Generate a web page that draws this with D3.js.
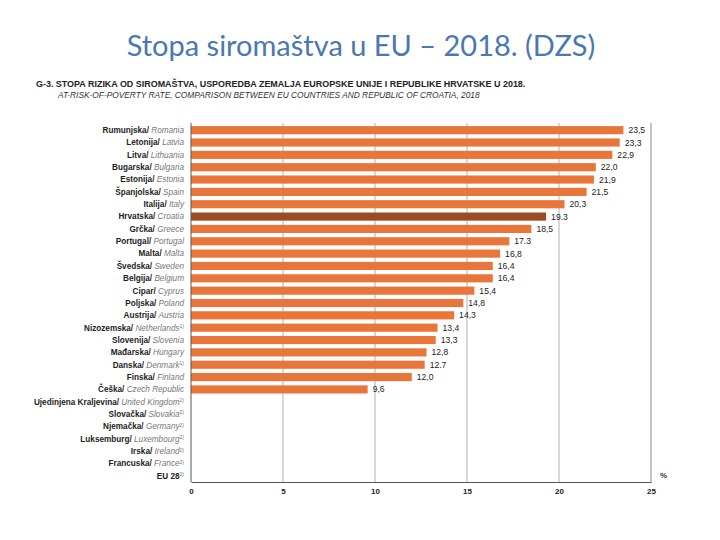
<!DOCTYPE html>
<html>
<head>
<meta charset="utf-8">
<script src="https://cdn.jsdelivr.net/npm/d3@7"></script>
<style>
  body { margin: 0; background: #fff; }
  svg { display: block; }
</style>
</head>
<body>
<div id="chart"></div>
<script>
// Countries, Croatian / English name, footnote mark
const namesHr = ["Rumunjska", "Letonija", "Litva", "Bugarska", "Estonija", "Španjolska", "Italija", "Hrvatska",
  "Grčka", "Portugal", "Malta", "Švedska", "Belgija", "Cipar", "Poljska", "Austrija", "Nizozemska", "Slovenija",
  "Mađarska", "Danska", "Finska", "Češka", "Ujedinjena Kraljevina", "Slovačka", "Njemačka", "Luksemburg",
  "Irska", "Francuska", "EU 28"];
const namesEn = ["Romania", "Latvia", "Lithuania", "Bulgaria", "Estonia", "Spain", "Italy", "Croatia",
  "Greece", "Portugal", "Malta", "Sweden", "Belgium", "Cyprus", "Poland", "Austria", "Netherlands", "Slovenia",
  "Hungary", "Denmark", "Finland", "Czech Republic", "United Kingdom", "Slovakia", "Germany", "Luxembourg",
  "Ireland", "France", ""];
const notes = ["", "", "", "", "", "", "", "", "", "", "", "", "", "", "", "", "1)", "", "", "1)", "", "",
  "2)", "2)", "2)", "2)", "2)", "2)", "2)"];
// at-risk-of-poverty rate, %  (null = no data)
const values = [23.5, 23.3, 22.9, 22.0, 21.9, 21.5, 20.3, 19.3, 18.5, 17.3, 16.8, 16.4, 16.4, 15.4, 14.8, 14.3,
  13.4, 13.3, 12.8, 12.7, 12.0, 9.6, null, null, null, null, null, null, null];
const valueLabels = ["23,5", "23,3", "22,9", "22,0", "21,9", "21,5", "20,3", "19.3", "18,5", "17.3", "16,8",
  "16,4", "16,4", "15,4", "14,8", "14,3", "13,4", "13,3", "12,8", "12.7", "12,0", "9,6"];
const xTicks = [0, 5, 10, 15, 20, 25];
const highlight = "Hrvatska";

const font = "'Liberation Sans', Arial, sans-serif";

const svg = d3.select("#chart")
  .append("svg")
  .attr("width", 720)
  .attr("height", 540);

// slide title
svg.append("text")
  .attr("x", 361)
  .attr("y", 56)
  .attr("text-anchor", "middle")
  .attr("font-family", "Lato, 'Open Sans', sans-serif")
  .attr("font-size", 29)
  .attr("fill", "#4a78b0")
  .text("Stopa siromaštva u EU – 2018. (DZS)");

// figure header
svg.append("text")
  .attr("x", 36)
  .attr("y", 87)
  .attr("font-family", font)
  .attr("font-size", 8.95)
  .attr("font-weight", "bold")
  .attr("fill", "#222")
  .text("G-3. STOPA RIZIKA OD SIROMAŠTVA, USPOREDBA ZEMALJA EUROPSKE UNIJE I REPUBLIKE HRVATSKE U 2018.");
svg.append("text")
  .attr("x", 58)
  .attr("y", 98)
  .attr("font-family", font)
  .attr("font-size", 8.35)
  .attr("font-style", "italic")
  .attr("fill", "#333")
  .text("AT-RISK-OF-POVERTY RATE, COMPARISON BETWEEN EU COUNTRIES AND REPUBLIC OF CROATIA, 2018");

const x = d3.scaleLinear().domain([0, 25]).range([191, 651]);
const y = d3.scaleBand().domain(namesHr).range([124, 482]).paddingInner(0.34).paddingOuter(0.17);

const plotTop = 123, plotBottom = 482;

// gridlines
svg.append("g")
  .selectAll("line")
  .data(xTicks.slice(1))
  .join("line")
  .attr("x1", d => x(d))
  .attr("x2", d => x(d))
  .attr("y1", plotTop)
  .attr("y2", plotBottom)
  .attr("stroke", d => d === 25 ? "#888" : "#b0b0b0")
  .attr("stroke-width", 1);

// bars
svg.append("g")
  .selectAll("rect")
  .data(namesHr.map((n, i) => ({ n, v: values[i] })).filter(d => d.v !== null))
  .join("rect")
  .attr("x", x(0))
  .attr("y", d => y(d.n))
  .attr("width", d => x(d.v) - x(0))
  .attr("height", y.bandwidth())
  .attr("fill", d => d.n === highlight ? "#9c4c22" : "#e8763a");

// value labels
svg.append("g")
  .selectAll("text")
  .data(valueLabels)
  .join("text")
  .attr("x", (d, i) => x(values[i]) + 5)
  .attr("y", (d, i) => y(namesHr[i]) + y.bandwidth() / 2)
  .attr("dy", "0.35em")
  .attr("font-family", font)
  .attr("font-size", 8.6)
  .attr("fill", "#222")
  .text(d => d);

// category labels
const cat = svg.append("g")
  .selectAll("text")
  .data(namesHr)
  .join("text")
  .attr("x", 184)
  .attr("y", d => y(d) + y.bandwidth() / 2)
  .attr("dy", "0.35em")
  .attr("text-anchor", "end")
  .attr("font-family", font)
  .attr("font-size", 8.2);
cat.append("tspan")
  .attr("fill", "#222")
  .attr("font-weight", "bold")
  .text((d, i) => namesEn[i] ? d + "/ " : d);
cat.append("tspan")
  .attr("fill", "#777")
  .attr("font-style", "italic")
  .text((d, i) => namesEn[i]);
cat.append("tspan")
  .attr("fill", "#777")
  .attr("font-size", 5)
  .attr("dy", "-0.5em")
  .text((d, i) => notes[i]);

// axes
const xAxis = svg.append("g")
  .attr("transform", `translate(0,${plotBottom})`)
  .call(d3.axisBottom(x).tickValues(xTicks).tickSize(0).tickPadding(6).tickFormat(d3.format("d")));
xAxis.select(".domain").attr("stroke", "#555");
xAxis.selectAll("text")
  .attr("font-family", font)
  .attr("font-size", 8)
  .attr("font-weight", "bold")
  .attr("fill", "#222");

svg.append("line")
  .attr("x1", x(0)).attr("x2", x(0))
  .attr("y1", plotTop).attr("y2", plotBottom)
  .attr("stroke", "#555");

svg.append("text")
  .attr("x", 660)
  .attr("y", 478)
  .attr("font-family", font)
  .attr("font-size", 8)
  .attr("font-weight", "bold")
  .attr("fill", "#333")
  .text("%");
</script>
</body>
</html>
